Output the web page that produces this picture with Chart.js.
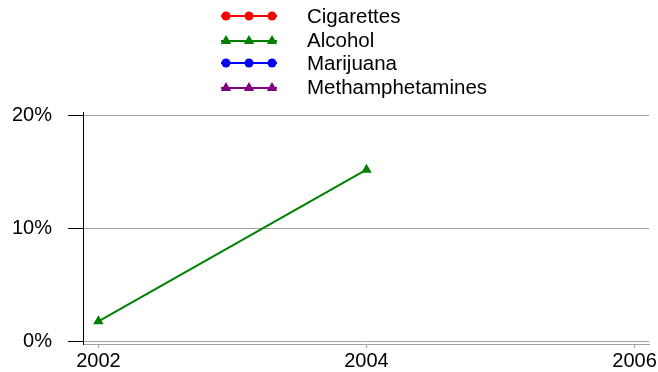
<!DOCTYPE html>
<html>
<head>
<meta charset="utf-8">
<script src="https://cdn.jsdelivr.net/npm/chart.js@4/dist/chart.umd.min.js"></script>
<style>
  html, body { margin: 0; padding: 0; background: #fff; }
  #wrap { width: 658px; height: 372px; }
</style>
</head>
<body>
<div id="wrap"><canvas id="chart" width="658" height="372"></canvas></div>
<script>
// Data
const years = [2002, 2004];
const seriesNames = ['Cigarettes', 'Alcohol', 'Marijuana', 'Methamphetamines'];
const cigarettes = [];
const alcohol = [1.8, 15.2];
const marijuana = [];
const methamphetamines = [];
const xTickValues = [2002, 2004, 2006];
const yTickValues = [0, 10, 20];

const seriesColors = ['#ff0000', '#008000', '#0000ff', '#800080'];
const seriesMarkers = ['circle', 'triangle', 'circle', 'triangle'];
const FONT = '"Liberation Sans", Arial, sans-serif';

function toPoints(values) {
    return values.map((v, i) => ({ x: years[i], y: v }));
}

// Draw one marker (circle or triangle) centred on x, y
function drawMarker(ctx, style, x, y, color) {
    ctx.fillStyle = color;
    ctx.beginPath();
    if (style === 'triangle') {
        const r = 6;
        ctx.moveTo(x, y - r);
        ctx.lineTo(x + r * 0.866, y + r * 0.5);
        ctx.lineTo(x - r * 0.866, y + r * 0.5);
        ctx.closePath();
    } else {
        ctx.arc(x, y, 4.5, 0, Math.PI * 2);
    }
    ctx.fill();
}

// Legend: line sample with three markers, then the name
const lineLegend = {
    id: 'lineLegend',
    afterDraw(chart) {
        const ctx = chart.ctx;
        ctx.save();
        chart.data.datasets.forEach((ds, i) => {
            const rowY = 16 + i * 23.5;
            const lineY = rowY + (ds.pointStyle === 'triangle' ? 1.5 : 0);
            ctx.strokeStyle = ds.borderColor;
            ctx.lineWidth = 2;
            ctx.beginPath();
            ctx.moveTo(221, lineY);
            ctx.lineTo(277, lineY);
            ctx.stroke();
            [226, 249, 272].forEach(x => drawMarker(ctx, ds.pointStyle, x, lineY, ds.borderColor));
            ctx.fillStyle = '#000';
            ctx.font = '20.5px ' + FONT;
            ctx.textBaseline = 'middle';
            ctx.textAlign = 'left';
            ctx.fillText(ds.label, 307, rowY + 1.5);
        });
        ctx.restore();
    }
};

const seriesData = [cigarettes, alcohol, marijuana, methamphetamines];

const chart = new Chart(document.getElementById('chart'), {
    type: 'line',
    data: {
        datasets: seriesNames.map((name, i) => ({
            label: name,
            data: toPoints(seriesData[i]),
            borderColor: seriesColors[i],
            backgroundColor: seriesColors[i],
            borderWidth: 2,
            pointStyle: seriesMarkers[i],
            pointRadius: seriesMarkers[i] === 'triangle' ? 6 : 4.5,
            pointBorderWidth: 0,
            fill: false,
            tension: 0
        }))
    },
    options: {
        responsive: false,
        animation: false,
        layout: { padding: { top: 112, right: 8, left: 0, bottom: 0 } },
        plugins: {
            legend: { display: false },
            tooltip: { enabled: false }
        },
        scales: {
            x: {
                type: 'linear',
                min: 2001.885,
                max: 2006.108,
                afterBuildTicks: scale => { scale.ticks = xTickValues.map(v => ({ value: v })); },
                afterFit: scale => { scale.height = 25.4; },
                ticks: {
                    color: '#000',
                    font: { family: FONT, size: 20 },
                    padding: 1,
                    maxRotation: 0,
                    callback: value => String(value)
                },
                grid: {
                    drawOnChartArea: false,
                    drawTicks: true,
                    tickLength: 4,
                    tickColor: '#a0a0a0'
                },
                border: { color: '#a0a0a0', width: 1 }
            },
            y: {
                min: -0.2,
                max: 20.3,
                afterBuildTicks: scale => { scale.ticks = yTickValues.map(v => ({ value: v })); },
                afterFit: scale => { scale.width = 83; },
                ticks: {
                    color: '#000',
                    font: { family: FONT, size: 20 },
                    padding: 16,
                    callback: value => value + '%'
                },
                grid: {
                    color: '#a0a0a0',
                    lineWidth: 1,
                    drawTicks: true,
                    tickLength: 15,
                    tickColor: '#000'
                },
                border: { color: '#000', width: 1 }
            }
        }
    },
    plugins: [lineLegend]
});
</script>
</body>
</html>
